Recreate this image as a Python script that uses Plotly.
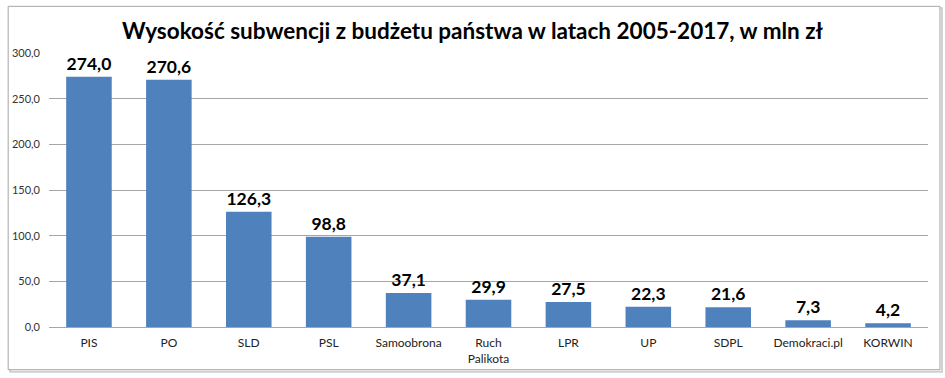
import plotly.graph_objects as go

categories = ["PIS", "PO", "SLD", "PSL", "Samoobrona", "Ruch<br>Palikota", "LPR", "UP", "SDPL", "Demokraci.pl", "KORWIN"]
values = [274.0, 270.6, 126.3, 98.8, 37.1, 29.9, 27.5, 22.3, 21.6, 7.3, 4.2]
title = "Wysokość subwencji z budżetu państwa w latach 2005-2017, w mln zł"

W, H = 945, 378
L, R, T, B = 45, 17, 53, 49
pw, ph = W - L - R, H - T - B

def px(x):
    return (x - L) / pw

def py(y):
    return (H - B - y) / ph

fig = go.Figure(go.Bar(
    x=categories, y=values,
    marker=dict(color="#4F81BD", line=dict(width=0)),
    texttemplate="<b>%{y:.1f}</b>", textposition="outside",
    textfont=dict(size=17.5, color="black", family="Lato, DejaVu Sans, sans-serif"),
    cliponaxis=False,
))

fig.update_layout(
    width=W, height=H,
    margin=dict(l=L, r=R, t=T, b=B),
    paper_bgcolor="white", plot_bgcolor="white",
    separators=", ",
    bargap=0.43,
    showlegend=False,
    font=dict(family="Lato, DejaVu Sans, sans-serif", color="#222"),
    title=dict(text="<b>" + title + "</b>", x=0.5, xanchor="center",
               y=1 - 31 / H, yanchor="middle",
               font=dict(size=22.5, color="black")),
    shapes=[
        dict(type="rect", xref="paper", yref="paper",
             x0=px(6), x1=px(942), y0=py(8), y1=py(374),
             line=dict(color="#d0d0d0", width=2), layer="below"),
        dict(type="rect", xref="paper", yref="paper",
             x0=px(4), x1=px(940), y0=py(6), y1=py(372),
             line=dict(color="#a6a6a6", width=1), fillcolor="white", layer="below"),
    ],
)
fig.update_yaxes(range=[0, 300], dtick=50, tickformat=".1f",
                 showgrid=True, gridcolor="#a6a6a6", gridwidth=1,
                 zeroline=False, showline=False, ticks="",
                 tickfont=dict(size=11, color="#333"), ticklabelstandoff=8)
fig.update_xaxes(showline=True, linecolor="#a6a6a6", linewidth=1, ticks="",
                 tickfont=dict(size=12, color="#222"), ticklabelstandoff=5)

fig.write_html("out.html", config={"displayModeBar": False},
               post_script="document.body.style.margin='0';document.body.style.overflow='hidden';")
